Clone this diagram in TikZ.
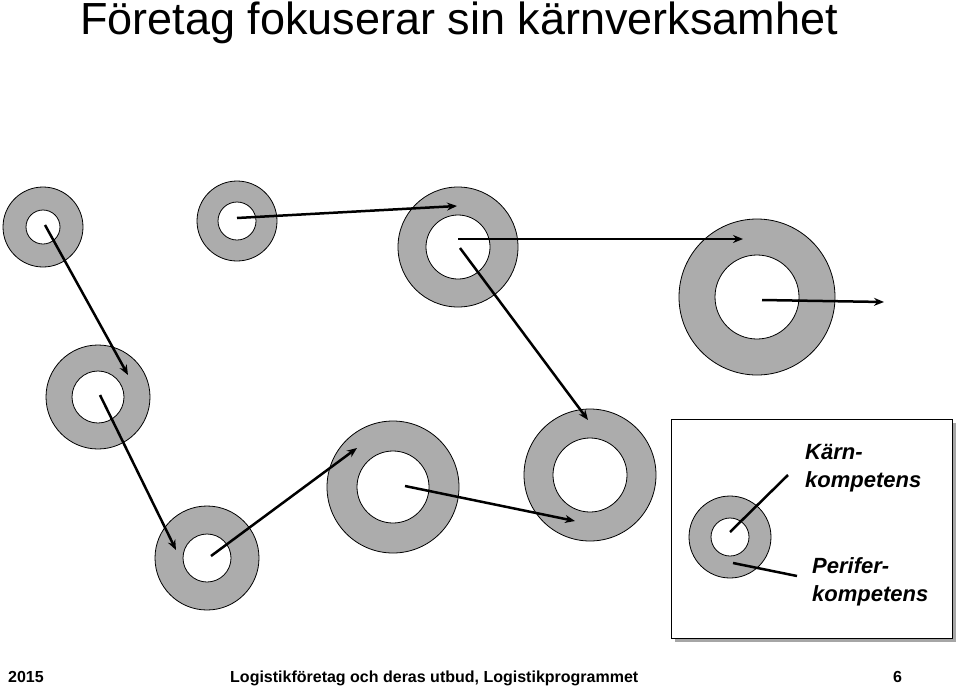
\documentclass[tikz,border=0pt]{standalone}
\usepackage{fontspec}
\setmainfont{Liberation Sans}
\usetikzlibrary{arrows.meta}
\begin{document}
\begin{tikzpicture}[x=1pt,y=-1pt,
  ring/.style={circle,draw=black,fill=gray!65,line width=0.8pt,inner sep=0pt},
  hole/.style={circle,draw=black,fill=white,line width=0.8pt,inner sep=0pt},
  arr/.style={line width=2.5pt,-{Stealth[length=10pt,width=8pt]}},
  lead/.style={line width=2.5pt},
  lbl/.style={font=\bfseries\itshape\fontsize{22}{28}\selectfont,align=left,anchor=north west,inner sep=0pt},
  foot/.style={anchor=base west,inner sep=0pt,font=\bfseries\fontsize{16}{18}\selectfont}]
\useasboundingbox (0,0) rectangle (960,686);
\node[anchor=base west,inner sep=0pt,font=\fontsize{45}{50}\selectfont] (title) at (80,34) {Företag fokuserar sin kärnverksamhet};
% rings
\foreach \n/\x/\y/\R/\r in {a/43/227/40/17, b/237/221/40/19, c/458/247/60/32, d/757/297/78/42, e/98/397/52/26, f/207/558/52/24, g/393/487/66/36, h/590/475/66/37}{
  \node[ring,minimum size=2*\R] (\n) at (\x,\y) {};
  \node[hole,minimum size=2*\r] (\n i) at (\x,\y) {};
}
\coordinate (a1) at (45,225); \coordinate (a2) at (128,375);
\coordinate (b1) at (237,218); \coordinate (b2) at (457,206);
\coordinate (c1) at (458,239); \coordinate (c2) at (743,239);
\coordinate (d1) at (762,300); \coordinate (d2) at (884,302);
\coordinate (e1) at (100,395); \coordinate (e2) at (176,550);
\coordinate (f1) at (211,556); \coordinate (f2) at (357,448);
\coordinate (c3) at (460,248); \coordinate (h2) at (588,420);
\coordinate (g1) at (405,486); \coordinate (g2) at (575,521);
\foreach \p/\q in {a1/a2,b1/b2,c1/c2,d1/d2,e1/e2,f1/f2,c3/h2,g1/g2}
  \draw[arr] (\p) -- (\q);
% legend
\fill[gray!70] (675,423) rectangle (956,642);
\node[draw=black,fill=white,line width=0.8pt,minimum width=281,minimum height=219,anchor=north west,inner sep=0pt] (box) at (671,419) {};
\node[ring,minimum size=82] (l) at (730,537) {};
\node[hole,minimum size=38] (li) at (730,537) {};
\coordinate (k1) at (730,532); \coordinate (k2) at (788,475);
\coordinate (p1) at (733,563); \coordinate (p2) at (797,576);
\draw[lead] (k1) -- (k2);
\draw[lead] (p1) -- (p2);
\node[lbl] (kt) at (805,444) {Kärn-\\kompetens};
\node[lbl] (pt) at (812,557) {Perifer-\\kompetens};
% footer
\node[foot] (yr) at (8,682) {2015};
\node[foot] (ft) at (230,682) {Logistikföretag och deras utbud, Logistikprogrammet};
\node[foot] (pg) at (893,682) {6};
\end{tikzpicture}
\end{document}
